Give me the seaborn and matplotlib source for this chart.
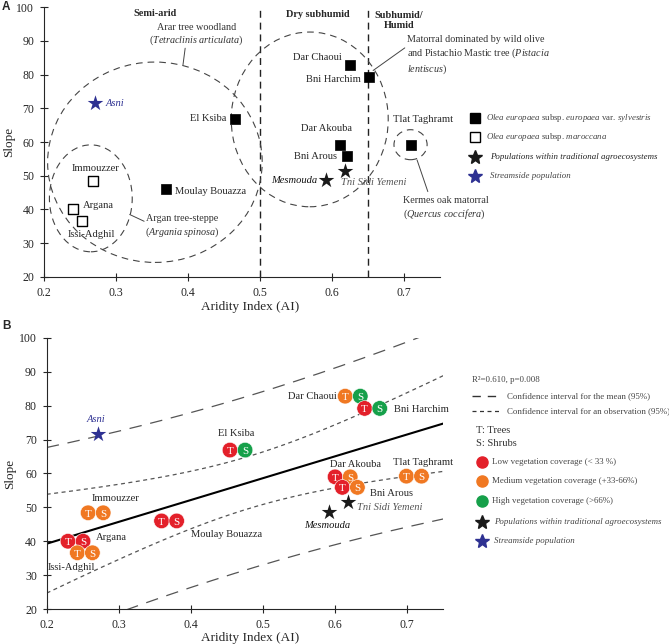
import numpy as np
import pandas as pd
import seaborn as sns
import matplotlib.pyplot as plt
from matplotlib.patches import Ellipse

# ---- data ----
sites = ['Immouzzer', 'Argana', 'Issi-Adghil', 'Moulay Bouazza', 'El Ksiba',
         'Dar Chaoui', 'Bni Harchim', 'Dar Akouba', 'Bni Arous', 'Tlat Taghramt']
aridity = [0.268, 0.240, 0.253, 0.370, 0.465, 0.625, 0.652, 0.611, 0.621, 0.710]
slope = [48.4, 40.0, 36.6, 46.0, 66.9, 82.8, 79.2, 59.0, 55.9, 59.2]
subspecies = ['maroccana', 'maroccana', 'maroccana', 'sylvestris', 'sylvestris',
              'sylvestris', 'sylvestris', 'sylvestris', 'sylvestris', 'sylvestris']
tree_cover = ['medium', 'low', 'medium', 'low', 'low', 'medium', 'low', 'low', 'low', 'medium']
shrub_cover = ['medium', 'low', 'medium', 'low', 'high', 'high', 'high', 'medium', 'medium', 'medium']

agro_sites = ['Mesmouda', 'Tni Sidi Yemeni']
agro_aridity = [0.592, 0.618]
agro_slope = [48.6, 51.5]

stream_sites = ['Asni']
stream_aridity = [0.271]
stream_slope = [71.5]

climate_limits = [0.5, 0.65]
ai_ticks = [0.2, 0.3, 0.4, 0.5, 0.6, 0.7]
slope_ticks = [20, 30, 40, 50, 60, 70, 80, 90, 100]
t_crit = 2.306  # Student t, 8 df, 95 %

cover_colors = {'low': '#e3202a', 'medium': '#f07822', 'high': '#16a04a'}
navy = '#2e3192'
grey = '#444444'

# ---- style ----
sns.set_style('ticks')
plt.rcParams['font.family'] = ['Liberation Serif', 'DejaVu Serif']
plt.rcParams['mathtext.fontset'] = 'custom'
plt.rcParams['mathtext.rm'] = 'Liberation Serif'
plt.rcParams['mathtext.it'] = 'Liberation Serif:italic'
plt.rcParams['mathtext.bf'] = 'Liberation Serif:bold'

fig = plt.figure(figsize=(6.69, 6.44), dpi=100)
axA = fig.add_axes([0.0658, 0.570, 0.592, 0.419])
axB = fig.add_axes([0.0698, 0.0543, 0.592, 0.421])


def style_axes(ax, lx, ly, lyy):
    ax.set_xlim(0.2, 0.75)
    ax.set_ylim(20, 100)
    ax.set_xticks(ai_ticks)
    ax.set_xticklabels([f'{t:.1f}' for t in ai_ticks])
    ax.set_yticks(slope_ticks)
    sns.despine(ax=ax)
    for s in ['left', 'bottom']:
        ax.spines[s].set_linewidth(0.8)
    ax.tick_params(direction='inout', length=6, width=0.8, labelsize=8.5, pad=4)
    ax.set_xlabel('Aridity Index (AI)', fontsize=9.5)
    ax.set_ylabel('Slope', fontsize=9.5)
    ax.xaxis.set_label_coords(lx, lyy)
    ax.yaxis.set_label_coords(ly, 0.5)


lab = dict(fontsize=7.6, textcoords='offset points', va='center')

# ================= Panel A =================
dfA = pd.DataFrame({'site': sites, 'AI': aridity, 'Slope': slope, 'subsp': subspecies})
sns.scatterplot(data=dfA[dfA.subsp == 'sylvestris'], x='AI', y='Slope', marker='s', s=55,
                color='black', edgecolor='black', linewidth=0.5, legend=False, ax=axA, zorder=4)
sns.scatterplot(data=dfA[dfA.subsp == 'maroccana'], x='AI', y='Slope', marker='s', s=52,
                color='white', edgecolor='black', linewidth=1.0, legend=False, ax=axA, zorder=4)
sns.scatterplot(x=agro_aridity, y=agro_slope, marker='*', s=140, color='#1a1a1a',
                linewidth=0, legend=False, ax=axA, zorder=4)
sns.scatterplot(x=stream_aridity, y=stream_slope, marker='*', s=140, color=navy,
                linewidth=0, legend=False, ax=axA, zorder=4)
style_axes(axA, 0.52, -0.072, -0.09)

for xv in climate_limits:
    axA.axvline(xv, color='#222222', lw=1.0, ls=(0, (5, 3.5)), zorder=1)

# vegetation envelopes
for (cx, cy, w, h) in [(0.354, 54.0, 0.298, 59.4), (0.265, 43.3, 0.115, 31.7),
                       (0.569, 66.7, 0.218, 51.8), (0.709, 59.2, 0.046, 8.9)]:
    axA.add_patch(Ellipse((cx, cy), w, h, fill=False, ec=grey, lw=0.8,
                          ls=(0, (6, 4.5)), zorder=2))

# region names
axA.text(0.354, 98.1, 'Semi-arid', ha='center', va='center', fontsize=7.4, weight='bold')
axA.text(0.58, 97.9, 'Dry subhumid', ha='center', va='center', fontsize=7.4, weight='bold')
axA.text(0.693, 96.0, 'Subhumid/\nHumid', ha='center', va='center', fontsize=7.4,
         weight='bold', linespacing=1.25)

# vegetation annotations
ann = dict(fontsize=7.3, color='#333333', linespacing=1.25)
axA.text(0.412, 91.7, 'Arar tree woodland\n($\\mathit{Tetraclinis\\ articulata}$)',
         ha='center', va='center', **ann)
axA.plot([0.396, 0.393], [87.8, 82.9], color=grey, lw=0.7)
axA.text(0.704, 85.7, 'Matorral dominated by wild olive\nand Pistachio Mastic tree '
         '($\\mathit{Pistacia}$\n$\\mathit{lentiscus}$)', ha='left', va='center', **ann)
axA.plot([0.701, 0.657], [87.9, 81.2], color=grey, lw=0.7)
axA.text(0.699, 40.2, 'Kermes oak matorral\n($\\mathit{Quercus\\ coccifera}$)',
         ha='left', va='center', **ann)
axA.plot([0.733, 0.718], [45.3, 54.7], color=grey, lw=0.7)
axA.text(0.392, 34.9, 'Argan tree-steppe\n($\\mathit{Argania\\ spinosa}$)',
         ha='center', va='center', **ann)
axA.plot([0.319, 0.339], [38.5, 36.5], color=grey, lw=0.7)

offA = {'Immouzzer': (2, 9.4, 'center'), 'Argana': (7.2, 2.9, 'left'),
        'Issi-Adghil': (6.5, -10, 'center'), 'Moulay Bouazza': (6.5, -1.4, 'left'),
        'El Ksiba': (-5.8, 0, 'right'), 'Dar Chaoui': (-5.8, 5.8, 'right'),
        'Bni Harchim': (-6.5, -1.4, 'right'), 'Dar Akouba': (-9.4, 12.2, 'center'),
        'Bni Arous': (-7.2, -0.7, 'right'), 'Tlat Taghramt': (8.3, 18, 'center')}
for name, xv, yv in zip(sites, aridity, slope):
    dx, dy, ha = offA[name]
    axA.annotate(name, (xv, yv), xytext=(dx, dy), ha=ha, **lab)
axA.annotate(agro_sites[0], (agro_aridity[0], agro_slope[0]), xytext=(-6.5, 0), ha='right',
             style='italic', color='#111111', **lab)
axA.annotate(agro_sites[1], (agro_aridity[1], agro_slope[1]), xytext=(-2.9, -8.6), ha='left',
             style='italic', color='#555555', **lab)
axA.annotate(stream_sites[0], (stream_aridity[0], stream_slope[0]), xytext=(7.2, 0), ha='left',
             style='italic', color=navy, **lab)

# ================= Panel B =================
pair_off = 0.0105
rowsB = []
for name, xv, yv, tc, sc in zip(sites, aridity, slope, tree_cover, shrub_cover):
    rowsB.append({'site': name, 'x': xv - pair_off, 'Slope': yv, 'part': 'T', 'cover': tc})
    rowsB.append({'site': name, 'x': xv + pair_off, 'Slope': yv, 'part': 'S', 'cover': sc})
dfB = pd.DataFrame(rowsB)

# regression with confidence bands
xa = np.array(aridity)
ya = np.array(slope)
b1, b0 = np.polyfit(xa, ya, 1)
n = len(xa)
resid = ya - (b0 + b1 * xa)
s_err = np.sqrt(np.sum(resid ** 2) / (n - 2))
sxx = np.sum((xa - xa.mean()) ** 2)
xs = np.linspace(0.2, 0.756, 200)
fit = b0 + b1 * xs
hw_mean = t_crit * s_err * np.sqrt(1 / n + (xs - xa.mean()) ** 2 / sxx)
hw_obs = t_crit * s_err * np.sqrt(1 + 1 / n + (xs - xa.mean()) ** 2 / sxx)

axB.plot(xs, fit, color='black', lw=1.5, zorder=2)
for sign in (-1, 1):
    axB.plot(xs, fit + sign * hw_mean, color='#555555', lw=0.9, ls=(0, (3.2, 2.8)), zorder=2)
    axB.plot(xs, fit + sign * hw_obs, color='#555555', lw=0.9, ls=(0, (10, 7)), zorder=2)

sns.scatterplot(data=dfB, x='x', y='Slope', hue='cover', palette=cover_colors, s=125,
                edgecolor='white', linewidth=0.4, legend=False, ax=axB, zorder=3)
for _, r in dfB.iterrows():
    axB.text(r['x'], r['Slope'] - 0.4, r['part'], color='white', fontsize=8,
             ha='center', va='center', zorder=5)
sns.scatterplot(x=agro_aridity, y=agro_slope, marker='*', s=140, color='#1a1a1a',
                linewidth=0, legend=False, ax=axB, zorder=4)
sns.scatterplot(x=stream_aridity, y=stream_slope, marker='*', s=140, color=navy,
                linewidth=0, legend=False, ax=axB, zorder=4)
style_axes(axB, 0.513, -0.077, -0.083)

offB = {'Immouzzer': (14.4, 10, 'center'), 'Argana': (14.8, 2.4, 'left'),
        'Issi-Adghil': (-10, -10.7, 'center'), 'Moulay Bouazza': (41.3, -9.9, 'center'),
        'El Ksiba': (-0.7, 11.7, 'center'), 'Dar Chaoui': (-11.5, 0, 'right'),
        'Bni Harchim': (15.8, -0.7, 'left'), 'Dar Akouba': (9.4, 8.9, 'center'),
        'Bni Arous': (14.2, -4.3, 'left'), 'Tlat Taghramt': (6.3, 10, 'center')}
for name, xv, yv in zip(sites, aridity, slope):
    dx, dy, ha = offB[name]
    axB.annotate(name, (xv, yv), xytext=(dx, dy), ha=ha, zorder=6, **lab)
axB.annotate(agro_sites[0], (agro_aridity[0], agro_slope[0]), xytext=(-1.4, -9.4), ha='center',
             style='italic', color='#111111', **lab)
axB.annotate(agro_sites[1], (agro_aridity[1], agro_slope[1]), xytext=(6.8, -3.6), ha='left',
             style='italic', color='#555555', **lab)
axB.annotate(stream_sites[0], (stream_aridity[0], stream_slope[0]), xytext=(-1.4, 10.8),
             ha='center', style='italic', color=navy, **lab)

# ================= legends (pixel overlay) =================
lg = fig.add_axes([0, 0, 1, 1])
lg.set_xlim(0, 669)
lg.set_ylim(644, 0)
lg.axis('off')
lg.patch.set_alpha(0)
lt = dict(fontsize=6.4, color=grey, va='center', ha='left')

# legend A
lg.plot(475, 118, marker='s', ms=7.3, color='black', ls='none')
lg.text(486, 118, '$\\mathit{Olea\\ europaea}$ subsp. $\\mathit{europaea}$ var. '
        '$\\mathit{sylvestris}$', **lt)
lg.plot(475, 137, marker='s', ms=7.0, mfc='white', mec='black', mew=1.0, ls='none')
lg.text(486, 137, '$\\mathit{Olea\\ europaea}$ subsp. $\\mathit{maroccana}$', **lt)
lg.plot(475, 157, marker='*', ms=10, color='#1a1a1a', ls='none')
lg.text(490, 157, 'Populations within traditional agroecosystems', style='italic',
        **{**lt, 'color': '#222222'})
lg.plot(475, 176, marker='*', ms=10, color=navy, ls='none')
lg.text(490, 176, 'Streamside population', style='italic', **lt)

# legend B
lg.text(472, 380, 'R\u00b2=0.610, p=0.008', **lt)
lg.plot([472, 500], [396, 396], color='#333333', lw=1.0, ls=(0, (6, 5)))
lg.text(507, 396, 'Confidence interval for the mean (95%)', **lt)
lg.plot([472, 500], [411, 411], color='#333333', lw=0.9, ls=(0, (3.2, 2.8)))
lg.text(507, 411, 'Confidence interval for an observation (95%)', **lt)
lg.text(476, 430, 'T: Trees', fontsize=7.6, color='#333333', va='center')
lg.text(476, 443, 'S: Shrubs', fontsize=7.6, color='#333333', va='center')
for yy, key, txt in [(462, 'low', 'Low vegetation coverage (< 33 %)'),
                     (481, 'medium', 'Medium vegetation coverage (+33-66%)'),
                     (501, 'high', 'High vegetation coverage (>66%)')]:
    lg.plot(482, yy, marker='o', ms=8, color=cover_colors[key], ls='none')
    lg.text(492, yy, txt, **lt)
lg.plot(482, 522, marker='*', ms=10, color='#1a1a1a', ls='none')
lg.text(494, 522, 'Populations within traditional agroecosystems', style='italic', **lt)
lg.plot(482, 541, marker='*', ms=10, color=navy, ls='none')
lg.text(494, 541, 'Streamside population', style='italic', **lt)

fig.text(0.003, 1 - 10 / 644, 'A', fontsize=8.5, weight='bold', family='Liberation Sans')
fig.text(0.003, 1 - 329 / 644, 'B', fontsize=8.5, weight='bold', family='Liberation Sans')

fig.savefig('out.png', dpi=100)
plt.close(fig)
